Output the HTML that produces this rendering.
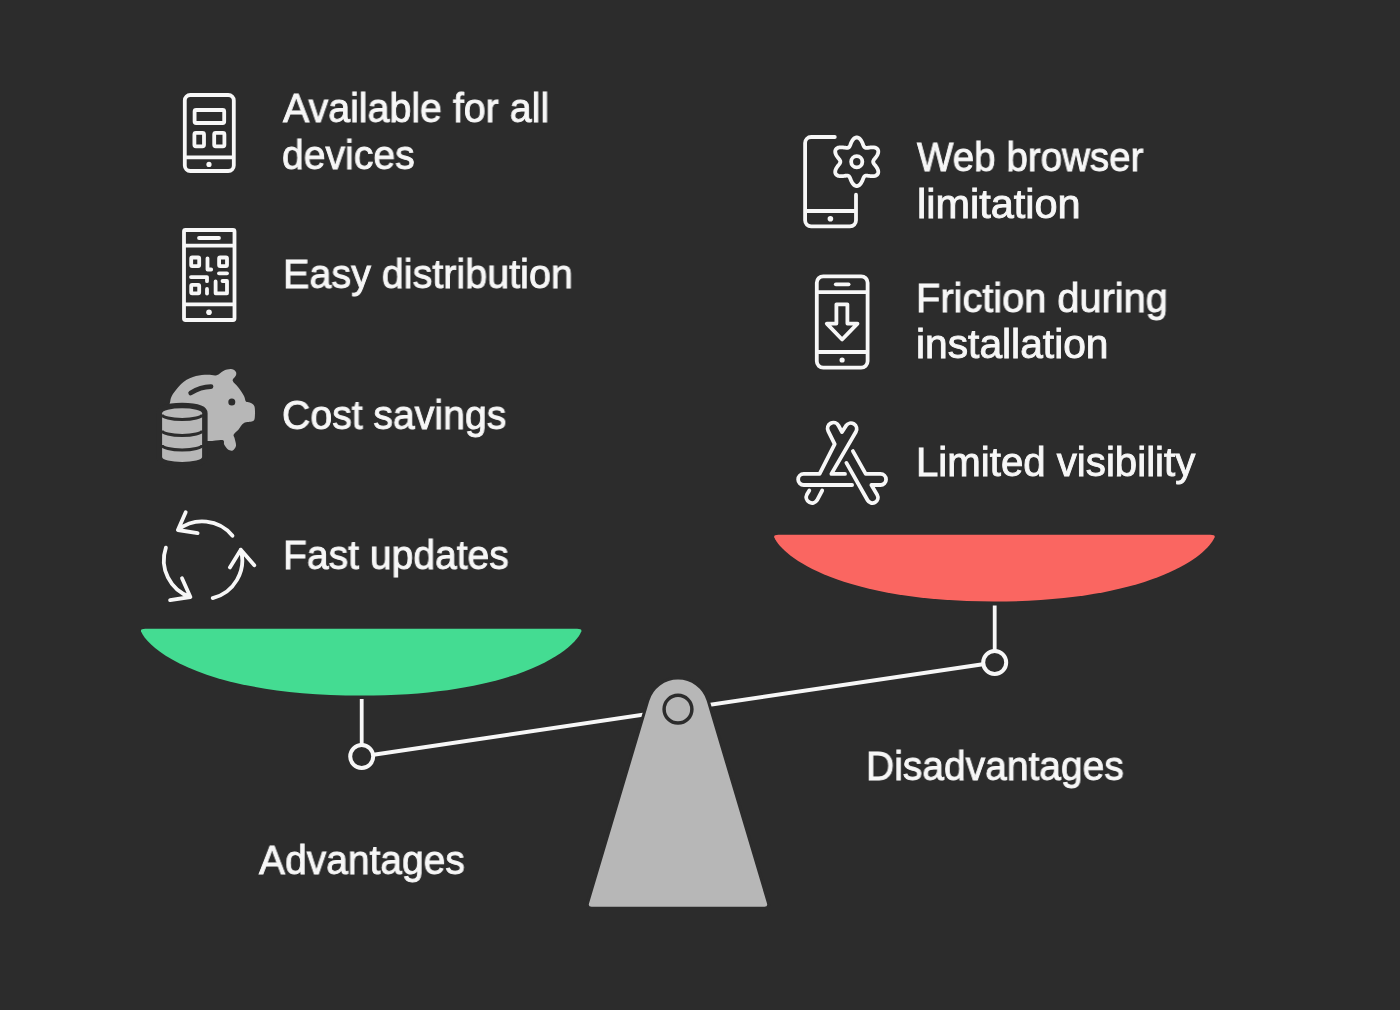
<!DOCTYPE html>
<html><head><meta charset="utf-8"><style>
html,body{margin:0;padding:0;background:#2c2c2c;width:1400px;height:1010px;overflow:hidden}
.t{position:absolute;font-family:"Liberation Sans",sans-serif;font-size:40px;line-height:47px;color:#f7f7f7;white-space:nowrap;transform-origin:0 0;-webkit-text-stroke:0.9px #f7f7f7;will-change:transform}
</style></head><body>

<svg width="1400" height="1010" viewBox="0 0 1400 1010" style="position:absolute;left:0;top:0">
<!-- bowls -->
<path d="M145.20 628.80 L577.20 628.80 Q582.20 628.80 581.34 631.43 C572.92 651.28 514.67 695.60 361.20 695.60 C207.73 695.60 149.48 651.28 141.06 631.43 Q140.20 628.80 145.20 628.80 Z" fill="#44dc92"/>
<path d="M778.40 534.70 L1210.50 534.70 Q1215.50 534.70 1214.64 537.33 C1206.22 557.18 1147.97 601.50 994.45 601.50 C840.93 601.50 782.68 557.18 774.26 537.33 Q773.40 534.70 778.40 534.70 Z" fill="#fa6661"/>
<!-- hangers -->
<line x1="361.7" y1="699" x2="361.7" y2="745" stroke="#f7f7f7" stroke-width="3.8"/>
<line x1="994.7" y1="605.5" x2="994.7" y2="651" stroke="#f7f7f7" stroke-width="3.8"/>
<!-- beam -->
<line x1="361.7" y1="756.5" x2="994.7" y2="662.5" stroke="#f7f7f7" stroke-width="4"/>
<circle cx="361.7" cy="756.5" r="11.5" fill="#2c2c2c" stroke="#f7f7f7" stroke-width="4"/>
<circle cx="994.7" cy="662.5" r="11.5" fill="#2c2c2c" stroke="#f7f7f7" stroke-width="4"/>
<!-- fulcrum -->
<path d="M589.00 903.45 L649.25 701.04 A30.0 30.0 0 0 1 706.75 701.04 L767.00 903.45 Q768.00 906.80 764.50 906.80 L591.50 906.80 Q588.00 906.80 589.00 903.45 Z" fill="#b7b7b7" stroke="#2c2c2c" stroke-width="6" paint-order="stroke" stroke-linejoin="round"/>
<circle cx="678" cy="709.2" r="13.9" fill="none" stroke="#2c2c2c" stroke-width="3.5"/>

<g fill="none" stroke="#f7f7f7" stroke-width="3.8" stroke-linecap="round" stroke-linejoin="round">
<!-- icon 1: phone calculator -->
<rect x="184.8" y="95" width="49" height="76" rx="5.5"/>
<line x1="184.8" y1="157.4" x2="233.8" y2="157.4" stroke-linecap="butt"/>
<rect x="194.6" y="110" width="29.6" height="13" rx="1.5"/>
<rect x="194.4" y="132.9" width="9.6" height="13.4" rx="1.5"/>
<rect x="214.2" y="132.9" width="10.2" height="13.4" rx="1.5"/>
<!-- icon 2: phone qr -->
<rect x="184" y="230" width="50.5" height="90" rx="1.5"/>
<line x1="184" y1="245.6" x2="234.5" y2="245.6" stroke-linecap="butt"/>
<line x1="184" y1="304.4" x2="234.5" y2="304.4" stroke-linecap="butt"/>
<line x1="199" y1="238" x2="219" y2="238"/>
<rect x="191.2" y="257.5" width="8" height="8.6" rx="1"/>
<rect x="219.1" y="257.5" width="7.9" height="8.6" rx="1"/>
<rect x="191.2" y="284.9" width="8" height="8.4" rx="1"/>
<path d="M207.5 258.3 V269.5 H211.2"/>
<line x1="219" y1="273.3" x2="227" y2="273.3"/>
<path d="M191 277.1 H207 V281.2"/>
<line x1="207" y1="289" x2="207" y2="293.5"/>
<path d="M215.6 281.5 V293.3 H227 V281 H222.5"/>
<!-- icon 4: arrows -->
<path d="M232.5 535.7 A39 39 0 0 0 177.9 530 M185.7 512.3 L177.9 530 L197.6 533.1"/>
<path d="M165.9 547.6 A39 39 0 0 0 190.4 597 M182 578.3 L190.4 597 L170.1 600.1"/>
<path d="M212.7 598.1 A39 39 0 0 0 240.8 549.7 M229.9 567.4 L240.8 549.7 L254.3 565.3"/>
<!-- icon 5: phone gear -->
<path d="M834.8 137 H811.1 A6 6 0 0 0 805.1 143 V220.3 A6 6 0 0 0 811.1 226.3 H850 A6 6 0 0 0 856 220.3 V194.7"/>
<line x1="805.1" y1="211" x2="856" y2="211" stroke-linecap="butt"/>
<path d="M873.15 161.75 L873.19 162.18 L873.32 162.62 L873.53 163.07 L873.81 163.54 L874.16 164.04 L874.56 164.57 L875.00 165.13 L875.46 165.73 L875.94 166.36 L876.41 167.02 L876.85 167.71 L877.26 168.42 L877.62 169.14 L877.92 169.87 L878.13 170.61 L878.26 171.33 L878.29 172.03 L878.23 172.69 L878.06 173.32 L877.79 173.90 L877.43 174.42 L876.97 174.88 L876.42 175.27 L875.80 175.59 L875.11 175.84 L874.37 176.02 L873.59 176.13 L872.78 176.18 L871.96 176.18 L871.14 176.14 L870.33 176.06 L869.55 175.97 L868.80 175.86 L868.10 175.76 L867.44 175.68 L866.83 175.63 L866.28 175.62 L865.79 175.67 L865.34 175.77 L864.95 175.95 L864.60 176.21 L864.28 176.53 L864.00 176.94 L863.73 177.42 L863.47 177.97 L863.21 178.58 L862.94 179.24 L862.66 179.94 L862.35 180.67 L862.02 181.41 L861.64 182.14 L861.23 182.85 L860.79 183.52 L860.30 184.14 L859.77 184.70 L859.21 185.17 L858.62 185.55 L858.01 185.82 L857.38 185.99 L856.75 186.05 L856.12 185.99 L855.49 185.82 L854.88 185.55 L854.29 185.17 L853.73 184.70 L853.20 184.14 L852.71 183.52 L852.27 182.85 L851.86 182.14 L851.48 181.41 L851.15 180.67 L850.84 179.94 L850.56 179.24 L850.29 178.58 L850.03 177.97 L849.77 177.42 L849.50 176.94 L849.22 176.53 L848.90 176.21 L848.55 175.95 L848.16 175.77 L847.71 175.67 L847.22 175.62 L846.67 175.63 L846.06 175.68 L845.40 175.76 L844.70 175.86 L843.95 175.97 L843.17 176.06 L842.36 176.14 L841.54 176.18 L840.72 176.18 L839.91 176.13 L839.13 176.02 L838.39 175.84 L837.70 175.59 L837.08 175.27 L836.53 174.88 L836.07 174.42 L835.71 173.90 L835.44 173.32 L835.27 172.69 L835.21 172.03 L835.24 171.33 L835.37 170.61 L835.58 169.87 L835.88 169.14 L836.24 168.42 L836.65 167.71 L837.09 167.02 L837.56 166.36 L838.04 165.73 L838.50 165.13 L838.94 164.57 L839.34 164.04 L839.69 163.54 L839.97 163.07 L840.18 162.62 L840.31 162.18 L840.35 161.75 L840.31 161.32 L840.18 160.88 L839.97 160.43 L839.69 159.96 L839.34 159.46 L838.94 158.93 L838.50 158.37 L838.04 157.77 L837.56 157.14 L837.09 156.48 L836.65 155.79 L836.24 155.08 L835.88 154.36 L835.58 153.63 L835.37 152.89 L835.24 152.17 L835.21 151.47 L835.27 150.81 L835.44 150.18 L835.71 149.60 L836.07 149.08 L836.53 148.62 L837.08 148.23 L837.70 147.91 L838.39 147.66 L839.13 147.48 L839.91 147.37 L840.72 147.32 L841.54 147.32 L842.36 147.36 L843.17 147.44 L843.95 147.53 L844.70 147.64 L845.40 147.74 L846.06 147.82 L846.67 147.87 L847.22 147.88 L847.71 147.83 L848.16 147.73 L848.55 147.55 L848.90 147.29 L849.22 146.97 L849.50 146.56 L849.77 146.08 L850.03 145.53 L850.29 144.92 L850.56 144.26 L850.84 143.56 L851.15 142.83 L851.48 142.09 L851.86 141.36 L852.27 140.65 L852.71 139.98 L853.20 139.36 L853.73 138.80 L854.29 138.33 L854.88 137.95 L855.49 137.68 L856.12 137.51 L856.75 137.45 L857.38 137.51 L858.01 137.68 L858.62 137.95 L859.21 138.33 L859.77 138.80 L860.30 139.36 L860.79 139.98 L861.23 140.65 L861.64 141.36 L862.02 142.09 L862.35 142.83 L862.66 143.56 L862.94 144.26 L863.21 144.92 L863.47 145.53 L863.73 146.08 L864.00 146.56 L864.28 146.97 L864.60 147.29 L864.95 147.55 L865.34 147.73 L865.79 147.83 L866.28 147.88 L866.83 147.87 L867.44 147.82 L868.10 147.74 L868.80 147.64 L869.55 147.53 L870.33 147.44 L871.14 147.36 L871.96 147.32 L872.78 147.32 L873.59 147.37 L874.37 147.48 L875.11 147.66 L875.80 147.91 L876.42 148.23 L876.97 148.62 L877.43 149.08 L877.79 149.60 L878.06 150.18 L878.23 150.81 L878.29 151.47 L878.26 152.17 L878.13 152.89 L877.92 153.63 L877.62 154.36 L877.26 155.08 L876.85 155.79 L876.41 156.48 L875.94 157.14 L875.46 157.77 L875.00 158.37 L874.56 158.93 L874.16 159.46 L873.81 159.96 L873.53 160.43 L873.32 160.88 L873.19 161.32 Z"/>
<circle cx="856.75" cy="161.75" r="5.6"/>
<!-- icon 6: phone download -->
<rect x="816.8" y="276.3" width="50.8" height="91.4" rx="6.5"/>
<line x1="816.8" y1="292.1" x2="867.6" y2="292.1" stroke-linecap="butt"/>
<line x1="816.8" y1="352" x2="867.6" y2="352" stroke-linecap="butt"/>
<line x1="835.8" y1="284.3" x2="848.6" y2="284.3"/>
<path d="M836.4 304.3 H847.4 V323.6 H857.5 L842.1 339.5 L826.8 323.6 H836.4 Z"/>
<!-- icon 7: app store -->
<path d="M845 473.9 H831.4 L855.95 431.7 A5.8 5.8 0 0 0 846.05 425.68 L842 432.1 L838.57 425.76 A5.8 5.8 0 0 0 828.23 431.04 L834.7 444.1 L819.6 473.9 H803.7 A5.55 5.55 0 0 0 803.7 485 H852.1"/>
<path d="M852.9 451.1 L865.7 473.9 H880.5 A5.55 5.55 0 0 1 880.5 485 H871.4 L877.2 494.9 A5.5 5.5 0 0 1 867.6 500.3 L846.4 462.9"/>
<path d="M809.3 490.5 L806.9 494.5 A5.83 5.83 0 0 0 817 500.3 L822.2 490.5"/>
</g>
<g fill="#f7f7f7">
<circle cx="209" cy="164.4" r="2.6"/>
<circle cx="209" cy="312.3" r="2.8"/>
<circle cx="830.4" cy="218.7" r="2.8"/>
<circle cx="842.1" cy="360" r="2.6"/>
</g>
<!-- icon 3: piggy -->
<path d="M170.20 401.50 C171.27 396.02 172.13 395.38 174.40 392.10 C176.67 388.82 180.20 384.47 183.80 381.80 C187.40 379.13 192.08 377.28 196.00 376.10 C199.92 374.92 203.85 374.85 207.30 374.70 C210.75 374.55 214.03 375.83 216.70 375.20 C219.37 374.57 220.93 371.92 223.30 370.90 C225.67 369.88 228.85 369.02 230.90 369.10 C232.95 369.18 234.75 370.38 235.60 371.40 C236.45 372.42 236.48 373.63 236.00 375.20 C235.52 376.77 232.30 378.77 232.70 380.80 C233.10 382.83 236.52 384.88 238.40 387.40 C240.28 389.92 242.75 393.55 244.00 395.90 C245.25 398.25 244.95 400.40 245.90 401.50 C246.85 402.60 248.28 401.72 249.70 402.50 C251.12 403.28 253.55 403.70 254.40 406.20 C255.25 408.70 255.12 414.98 254.80 417.50 C254.48 420.02 254.30 420.37 252.50 421.30 C250.70 422.23 246.35 421.70 244.00 423.10 C241.65 424.50 240.12 427.82 238.40 429.70 C236.68 431.58 234.33 432.98 233.70 434.40 C233.07 435.82 234.22 436.32 234.60 438.20 C234.98 440.08 236.32 443.67 236.00 445.70 C235.68 447.73 234.03 449.77 232.70 450.40 C231.37 451.03 229.40 450.43 228.00 449.50 C226.60 448.57 225.23 446.37 224.30 444.80 C223.37 443.23 225.07 440.73 222.40 440.10 C219.73 439.47 214.53 441.02 208.30 441.00 C202.07 440.98 191.72 442.67 185.00 440.00 C178.28 437.33 170.47 431.42 168.00 425.00 C165.53 418.58 169.13 406.98 170.20 401.50 Z" fill="#b7b7b7"/>
<path d="M190.6 393 Q200.7 386.5 211.1 386.6" fill="none" stroke="#2c2c2c" stroke-width="4.6" stroke-linecap="round"/>
<circle cx="231.8" cy="402" r="3.5" fill="#2c2c2c"/>
<path d="M162.1 413.2 V457 A20 5 0 0 0 202.1 457 V413.2 A20 5 0 0 0 162.1 413.2 Z" fill="#b7b7b7" stroke="#2c2c2c" stroke-width="11" paint-order="stroke"/>
<g fill="none" stroke="#2c2c2c" stroke-width="3.2">
<path d="M162.1 414.5 A20 5 0 0 0 202.1 414.5"/>
<path d="M162.1 430.5 A20 5 0 0 0 202.1 430.5"/>
<path d="M162.1 445 A20 5 0 0 0 202.1 445"/>
</g>
</svg>

<div class="t" style="left:283.40px;top:85.00px;transform:scaleX(0.9836)">Available for all</div><div class="t" style="left:282.05px;top:131.60px;transform:scaleX(0.9774)">devices</div><div class="t" style="left:282.54px;top:251.00px;transform:scaleX(0.9878)">Easy distribution</div><div class="t" style="left:282.04px;top:392.00px;transform:scaleX(0.9796)">Cost savings</div><div class="t" style="left:283.27px;top:532.00px;transform:scaleX(0.9762)">Fast updates</div><div class="t" style="left:917.40px;top:134.00px;transform:scaleX(0.9641)">Web browser</div><div class="t" style="left:916.89px;top:181.00px;transform:scaleX(1.0368)">limitation</div><div class="t" style="left:915.62px;top:275.00px;transform:scaleX(0.9935)">Friction during</div><div class="t" style="left:915.54px;top:321.40px;transform:scaleX(1.0185)">installation</div><div class="t" style="left:915.88px;top:439.00px;transform:scaleX(1.0051)">Limited visibility</div><div class="t" style="left:259.00px;top:837.00px;transform:scaleX(0.9743)">Advantages</div><div class="t" style="left:865.68px;top:743.00px;transform:scaleX(0.9746)">Disadvantages</div>
</body></html>
